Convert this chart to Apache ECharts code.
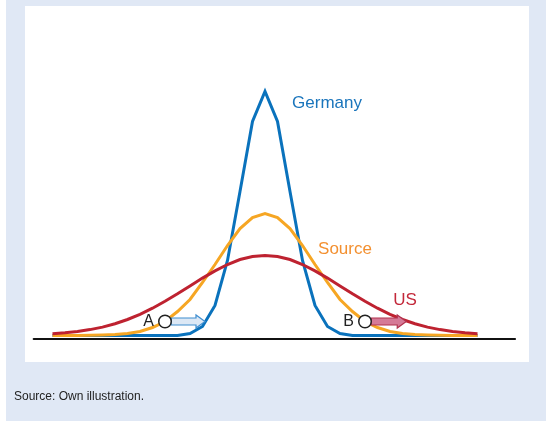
<!DOCTYPE html>
<html><head><meta charset="utf-8">
<script src="https://cdn.jsdelivr.net/npm/echarts@6/dist/echarts.min.js"></script>
<style>
html,body{margin:0;padding:0;background:#fff;}
#bg{position:absolute;left:6px;top:0;width:540px;height:421px;background:#E0E8F5;}
#panel{position:absolute;left:25px;top:6px;width:504px;height:356px;background:#fff;}
#c{position:absolute;left:0;top:0;width:546px;height:423px;}
</style>
</head><body>
<div id="bg"></div><div id="panel"></div>
<div id="c"></div>
<script>
// x positions (steps along the horizontal axis)
const steps = [0,1,2,3,4,5,6,7,8,9,10,11,12,13,14,15,16,17,18,19,20,21,22,23,24,25,26,27,28,29,30,31,32,33,34];
// distribution heights
const germany = [0,0,0,0,0,0,0,0,0,0,0,2,9,30,75,144,214,244,214,144,75,30,9,2,0,0,0,0,0,0,0,0,0,0,0];
const source  = [0,0,0.1,0.2,0.5,1,2,4,8,14,24,36,53,71,90,107,118,122,118,107,90,71,53,36,24,14,8,4,2,1,0.5,0.2,0.1,0,0];
const us      = [1.7,2.7,4,5.9,8.4,11.8,16,21.2,27.3,34.2,41.7,49.6,57.4,64.6,71,76,79,80,79,76,71,64.6,57.4,49.6,41.7,34.2,27.3,21.2,16,11.8,8.4,5.9,4,2.7,1.7];

const seriesNames = ['Germany','Source','US'];
const seriesLabelX = [21.96, 23.4, 28.2];
const seriesLabelY = [232.5, 86.5, 35.5];

const markerNames = ['A','B'];
const markerX = [9, 25];
const markerY = [14, 14];
const arrowFrom = [9.5, 25.5];
const arrowTo = [12.2, 28.3];

const colors = ['#0A72BC','#F6A623','#BE2230'];
const labelColors = ['#1A75BC','#F39030','#C3283A'];
const arrowFill = ['#DCE8F5','#D57A97'];
const arrowStroke = ['#3F8ED0','#B2324F'];

const chart = echarts.init(document.getElementById('c'), null, {renderer:'canvas'});

function pairs(arr){ return steps.map((s,i)=>[s,arr[i]]); }

const font = '"Liberation Sans", Arial, sans-serif';

const lineSeries = [germany, source, us].map((d,i)=>({
  name: seriesNames[i],
  type: 'line',
  data: pairs(d),
  showSymbol: false,
  smooth: false,
  z: 2 + i,
  lineStyle: {color: colors[i], width: 3, join: 'miter'},
  itemStyle: {color: colors[i]},
  markPoint: {
    symbol: 'circle', symbolSize: 0,
    data: [{coord: [seriesLabelX[i], seriesLabelY[i]], value: seriesNames[i]}],
    label: {show: true, position: 'inside', formatter: seriesNames[i], color: labelColors[i], fontSize: 17, fontFamily: font}
  },
  animation: false
}));

const arrowSeries = {
  type: 'custom',
  z: 6,
  data: markerNames.map((n,i)=>[arrowFrom[i], arrowTo[i], markerY[i], i]),
  renderItem: function(params, api){
    const p0 = api.coord([api.value(0), api.value(2)]);
    const p1 = api.coord([api.value(1), api.value(2)]);
    const idx = api.value(3);
    const sh = 3.5, hh = 6.5, hl = 9;
    const y = p0[1];
    const hx = p1[0] - hl;
    return {
      type: 'polygon',
      shape: {points: [[p0[0], y-sh],[hx, y-sh],[hx, y-hh],[p1[0], y],[hx, y+hh],[hx, y+sh],[p0[0], y+sh]]},
      style: {fill: arrowFill[idx], stroke: arrowStroke[idx], lineWidth: 1.2}
    };
  },
  animation: false
};

const markerSeries = {
  type: 'scatter',
  z: 7,
  data: markerNames.map((n,i)=>({value:[markerX[i], markerY[i]], name:n})),
  symbol: 'circle',
  symbolSize: 12.5,
  itemStyle: {color: '#fff', borderColor: '#222', borderWidth: 1.5, opacity: 1},
  label: {show: true, position: 'left', distance: 4, formatter: p=>p.name, color: '#222', fontSize: 16, fontFamily: font},
  animation: false
};

chart.setOption({
  backgroundColor: 'transparent',
  animation: false,
  title: {
    text: 'Source: Own illustration.',
    left: 9, top: 386,
    textStyle: {fontSize: 12, fontWeight: 'normal', color: '#222', fontFamily: font}
  },
  grid: {left: 33.75, right: 31, top: 85.5, bottom: 84.5, containLabel: false},
  xAxis: {
    type: 'value', min: -1.5, max: 37,
    axisLine: {show: true, onZero: false, lineStyle: {color: '#111', width: 2.2}},
    axisTick: {show: false}, axisLabel: {show: false}, splitLine: {show: false}
  },
  yAxis: {
    type: 'value', min: -3, max: 250,
    axisLine: {show: false}, axisTick: {show: false}, axisLabel: {show: false}, splitLine: {show: false}
  },
  series: [...lineSeries, arrowSeries, markerSeries]
});
</script>
</body></html>
